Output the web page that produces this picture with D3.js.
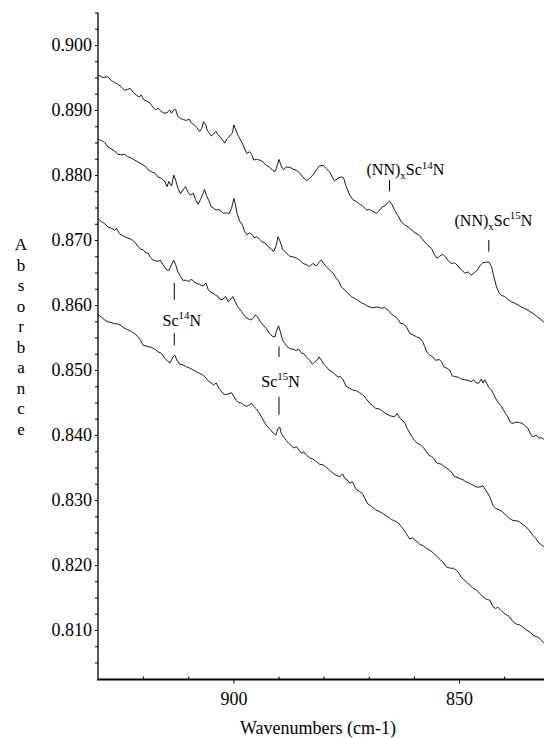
<!DOCTYPE html>
<html>
<head>
<meta charset="utf-8">
<script src="https://cdn.jsdelivr.net/npm/d3@7"></script>
<style>
  body { margin: 0; background: #fff; }
  svg { display: block; }
  text { font-family: "Liberation Serif", "Times New Roman", serif; fill: #000; }
</style>
</head>
<body>
<svg id="chart" width="544" height="738"></svg>
<script>
// IR absorbance spectra, [wavenumber (cm-1), absorbance] pairs, one array per scan (top to bottom)
const scanA = [
  [930.0,0.8954],[928.9,0.8950],[927.8,0.8951],[927.0,0.8945],[926.3,0.8942],[925.6,0.8940],[924.8,0.8935],
  [924.1,0.8930],[923.4,0.8932],[922.8,0.8933],[922.2,0.8927],[921.5,0.8923],[920.9,0.8920],[920.4,0.8923],
  [919.9,0.8916],[919.3,0.8914],[918.5,0.8911],[917.8,0.8904],[917.2,0.8900],[916.7,0.8903],[916.2,0.8899],
  [915.4,0.8895],[914.7,0.8896],[914.1,0.8900],[913.7,0.8895],[913.2,0.8900],[912.8,0.8901],[912.3,0.8890],
  [911.7,0.8887],[911.0,0.8885],[910.4,0.8884],[909.8,0.8886],[909.3,0.8880],[908.6,0.8877],[908.1,0.8873],
  [907.5,0.8867],[907.0,0.8872],[906.6,0.8882],[906.1,0.8877],[905.8,0.8869],[905.4,0.8865],[904.9,0.8860],
  [904.4,0.8863],[903.9,0.8867],[903.4,0.8862],[902.9,0.8858],[902.3,0.8853],[901.9,0.8849],[901.4,0.8856],
  [900.8,0.8860],[900.2,0.8865],[899.9,0.8877],[899.6,0.8872],[899.1,0.8863],[898.6,0.8856],[898.0,0.8849],
  [897.5,0.8840],[897.0,0.8833],[896.4,0.8836],[895.9,0.8831],[895.5,0.8823],[894.9,0.8824],[894.2,0.8823],
  [893.4,0.8820],[892.7,0.8815],[892.0,0.8812],[891.4,0.8808],[890.8,0.8805],[890.3,0.8814],[889.9,0.8824],
  [889.4,0.8814],[888.9,0.8808],[888.3,0.8812],[887.5,0.8812],[886.8,0.8809],[886.0,0.8807],[885.3,0.8803],
  [884.6,0.8797],[883.8,0.8791],[883.1,0.8795],[882.4,0.8800],[881.6,0.8808],[880.9,0.8814],[880.1,0.8815],
  [879.4,0.8810],[878.7,0.8805],[878.1,0.8797],[877.6,0.8791],[876.8,0.8795],[876.1,0.8797],[875.6,0.8796],
  [875.0,0.8782],[874.2,0.8769],[873.5,0.8762],[872.7,0.8759],[872.0,0.8755],[871.3,0.8752],[870.5,0.8746],
  [869.8,0.8747],[869.1,0.8744],[868.3,0.8741],[867.6,0.8746],[867.0,0.8751],[866.5,0.8752],[866.0,0.8756],
  [865.4,0.8760],[864.8,0.8754],[864.3,0.8746],[863.5,0.8737],[862.8,0.8728],[862.0,0.8723],[861.3,0.8720],
  [860.6,0.8716],[859.8,0.8711],[859.1,0.8709],[858.3,0.8703],[857.6,0.8697],[856.9,0.8692],[856.1,0.8687],
  [855.4,0.8677],[854.9,0.8672],[854.3,0.8675],[853.6,0.8678],[853.0,0.8674],[852.4,0.8668],[851.7,0.8664],
  [851.0,0.8665],[850.2,0.8660],[849.5,0.8654],[848.7,0.8649],[848.0,0.8651],[847.3,0.8646],[846.5,0.8650],
  [845.8,0.8655],[845.3,0.8661],[844.7,0.8665],[843.9,0.8666],[843.4,0.8666],[842.8,0.8659],[842.3,0.8644],
  [841.7,0.8628],[841.1,0.8618],[840.6,0.8615],[839.9,0.8613],[839.2,0.8609],[838.4,0.8605],[837.7,0.8603],
  [836.9,0.8600],[836.2,0.8597],[835.5,0.8595],[834.3,0.8590],[833.2,0.8585],[832.3,0.8580],[831.2,0.8574]
];

const scanB = [
  [930.0,0.8855],[929.2,0.8853],[928.5,0.8850],[927.8,0.8843],[927.0,0.8840],[926.3,0.8837],[925.6,0.8832],
  [924.8,0.8831],[924.1,0.8832],[923.4,0.8828],[922.6,0.8826],[921.9,0.8823],[921.1,0.8820],[920.4,0.8817],
  [919.6,0.8814],[918.9,0.8808],[918.2,0.8805],[917.4,0.8803],[916.7,0.8797],[916.0,0.8795],[915.2,0.8790],
  [914.7,0.8782],[914.3,0.8790],[913.7,0.8783],[913.2,0.8800],[912.8,0.8792],[912.3,0.8780],[911.7,0.8771],
  [911.2,0.8777],[910.6,0.8782],[910.1,0.8774],[909.5,0.8769],[908.9,0.8772],[908.35,0.8762],[907.8,0.8755],
  [907.3,0.8762],[906.7,0.8772],[906.4,0.8778],[906.0,0.8769],[905.4,0.8760],[904.9,0.8751],[904.4,0.8749],
  [903.8,0.8746],[903.2,0.8747],[902.7,0.8744],[902.2,0.8741],[901.6,0.8742],[901.0,0.8740],[900.4,0.8749],
  [899.9,0.8764],[899.6,0.8756],[899.2,0.8741],[898.6,0.8729],[898.0,0.8723],[897.5,0.8713],[897.0,0.8708],
  [896.4,0.8711],[895.8,0.8708],[895.3,0.8703],[894.8,0.8705],[894.2,0.8701],[893.6,0.8697],[893.1,0.8696],
  [892.3,0.8690],[891.6,0.8686],[891.1,0.8682],[890.6,0.8690],[890.1,0.8705],[889.6,0.8697],[889.1,0.8686],
  [888.3,0.8680],[887.5,0.8675],[886.8,0.8674],[886.0,0.8672],[885.3,0.8669],[884.6,0.8664],[883.8,0.8662],
  [883.1,0.8659],[882.4,0.8664],[881.6,0.8660],[880.9,0.8667],[880.5,0.8669],[880.0,0.8664],[879.4,0.8659],
  [878.7,0.8654],[877.9,0.8649],[877.2,0.8641],[876.6,0.8636],[876.1,0.8628],[875.3,0.8623],[874.6,0.8618],
  [873.9,0.8613],[873.1,0.8610],[872.4,0.8607],[871.6,0.8603],[870.9,0.8601],[870.2,0.8598],[869.4,0.8596],
  [868.7,0.8596],[868.0,0.8597],[867.2,0.8595],[866.5,0.8596],[865.7,0.8592],[865.0,0.8586],[864.3,0.8583],
  [863.5,0.8578],[863.0,0.8572],[862.4,0.8571],[861.7,0.8567],[860.9,0.8556],[860.2,0.8554],[859.4,0.8551],
  [858.7,0.8549],[858.1,0.8544],[857.6,0.8536],[857.1,0.8527],[856.5,0.8523],[855.8,0.8520],[855.2,0.8515],
  [854.4,0.8516],[853.9,0.8513],[853.4,0.8505],[852.8,0.8503],[852.1,0.8500],[851.5,0.8491],[851.0,0.8490],
  [850.2,0.8489],[849.5,0.8486],[848.7,0.8485],[848.0,0.8484],[847.3,0.8482],[846.75,0.8485],[846.2,0.8480],
  [845.6,0.8480],[845.05,0.8486],[844.7,0.8480],[844.3,0.8485],[843.9,0.8480],[843.4,0.8473],[842.8,0.8469],
  [842.3,0.8462],[841.7,0.8454],[841.1,0.8448],[840.6,0.8444],[840.1,0.8438],[839.7,0.8433],[839.2,0.8428],
  [838.6,0.8419],[838.05,0.8418],[837.3,0.8420],[836.6,0.8419],[836.0,0.8418],[835.5,0.8415],[834.7,0.8410],
  [834.2,0.8402],[833.6,0.8397],[832.9,0.8400],[832.3,0.8395],[831.8,0.8396],[831.2,0.8393]
];

const scanC = [
  [930.0,0.8733],[929.2,0.8728],[928.5,0.8725],[927.8,0.8720],[927.0,0.8718],[926.3,0.8715],[925.9,0.8718],
  [925.3,0.8710],[924.8,0.8708],[924.1,0.8705],[923.4,0.8703],[922.6,0.8701],[921.9,0.8697],[921.1,0.8690],
  [920.6,0.8686],[920.0,0.8685],[919.4,0.8680],[918.9,0.8680],[918.4,0.8673],[917.8,0.8669],[917.2,0.8668],
  [916.7,0.8667],[916.2,0.8669],[915.6,0.8662],[914.8,0.8654],[914.3,0.8653],[913.7,0.8662],[913.2,0.8669],
  [912.8,0.8662],[912.3,0.8651],[911.7,0.8644],[911.2,0.8638],[910.4,0.8638],[909.8,0.8636],[909.3,0.8640],
  [908.8,0.8636],[908.1,0.8633],[907.5,0.8632],[906.7,0.8629],[906.1,0.8634],[905.6,0.8624],[905.1,0.8620],
  [904.5,0.8618],[903.9,0.8615],[903.4,0.8613],[902.9,0.8608],[902.3,0.8609],[901.7,0.8613],[901.2,0.8605],
  [900.7,0.8608],[900.1,0.8613],[899.6,0.8605],[899.0,0.8597],[898.2,0.8590],[897.7,0.8585],[897.1,0.8580],
  [896.5,0.8578],[896.0,0.8577],[895.5,0.8581],[895.1,0.8585],[894.5,0.8580],[894.0,0.8574],[893.4,0.8569],
  [892.7,0.8564],[892.0,0.8556],[891.4,0.8552],[890.8,0.8551],[890.5,0.8559],[890.0,0.8568],[889.6,0.8559],
  [889.1,0.8546],[888.6,0.8541],[888.1,0.8536],[887.5,0.8533],[886.8,0.8532],[886.2,0.8530],[885.5,0.8532],
  [884.9,0.8526],[884.4,0.8525],[883.8,0.8520],[883.1,0.8515],[882.5,0.8509],[882.0,0.8512],[881.5,0.8515],
  [881.0,0.8520],[880.5,0.8515],[880.0,0.8509],[879.4,0.8505],[878.8,0.8500],[878.1,0.8497],[877.3,0.8492],
  [876.8,0.8489],[876.3,0.8490],[875.7,0.8485],[875.0,0.8475],[874.2,0.8472],[873.5,0.8469],[872.7,0.8468],
  [872.0,0.8465],[871.4,0.8462],[870.9,0.8459],[870.5,0.8455],[869.8,0.8449],[869.1,0.8445],[868.5,0.8441],
  [867.6,0.8440],[866.8,0.8436],[866.3,0.8433],[865.7,0.8431],[865.0,0.8429],[864.3,0.8428],[863.7,0.8433],
  [863.15,0.8426],[862.55,0.8423],[862.0,0.8418],[861.5,0.8410],[860.9,0.8403],[860.3,0.8396],[859.8,0.8391],
  [859.3,0.8388],[858.6,0.8385],[857.8,0.8380],[857.2,0.8374],[856.7,0.8369],[856.1,0.8367],[855.6,0.8364],
  [855.0,0.8357],[854.4,0.8356],[853.9,0.8355],[853.2,0.8351],[852.7,0.8349],[852.1,0.8346],[851.5,0.8341],
  [851.0,0.8336],[850.45,0.8335],[849.85,0.8333],[849.1,0.8331],[848.5,0.8328],[848.0,0.8327],[847.5,0.8325],
  [846.9,0.8323],[846.15,0.8320],[845.4,0.8320],[844.7,0.8322],[844.1,0.8315],[843.6,0.8310],[843.05,0.8303],
  [842.5,0.8292],[841.9,0.8287],[841.1,0.8285],[840.4,0.8282],[839.7,0.8277],[838.9,0.8272],[838.2,0.8269],
  [837.4,0.8268],[836.7,0.8267],[836.0,0.8263],[835.2,0.8259],[834.5,0.8254],[833.7,0.8246],[833.0,0.8241],
  [832.3,0.8234],[831.75,0.8231],[831.2,0.8228]
];

const scanD = [
  [930.0,0.8585],[929.2,0.8581],[928.5,0.8577],[927.8,0.8574],[927.0,0.8573],[926.3,0.8571],[925.6,0.8571],
  [924.8,0.8568],[924.1,0.8564],[923.4,0.8562],[922.6,0.8559],[921.9,0.8556],[921.1,0.8551],[920.6,0.8546],
  [920.0,0.8538],[919.4,0.8537],[918.9,0.8536],[918.2,0.8535],[917.4,0.8532],[916.7,0.8528],[916.0,0.8526],
  [915.2,0.8518],[914.5,0.8513],[914.0,0.8511],[913.4,0.8520],[913.0,0.8523],[912.5,0.8515],[911.9,0.8509],
  [911.2,0.8508],[910.4,0.8505],[909.7,0.8503],[908.9,0.8500],[908.2,0.8497],[907.5,0.8495],[906.7,0.8492],
  [906.0,0.8487],[905.4,0.8482],[904.9,0.8480],[904.4,0.8477],[903.8,0.8480],[903.2,0.8472],[902.7,0.8467],
  [901.9,0.8462],[901.2,0.8463],[900.4,0.8465],[899.9,0.8459],[899.3,0.8453],[898.8,0.8450],[898.2,0.8449],
  [897.7,0.8446],[897.1,0.8444],[896.5,0.8446],[896.0,0.8449],[895.5,0.8444],[894.9,0.8440],[894.2,0.8433],
  [893.4,0.8423],[892.7,0.8415],[892.0,0.8410],[891.2,0.8403],[890.6,0.8400],[890.1,0.8410],[889.7,0.8412],
  [889.4,0.8403],[888.9,0.8397],[888.3,0.8392],[887.7,0.8387],[887.1,0.8383],[886.6,0.8380],[886.0,0.8382],
  [885.5,0.8377],[884.9,0.8372],[884.4,0.8374],[883.8,0.8369],[883.1,0.8365],[882.4,0.8363],[881.6,0.8359],
  [880.9,0.8355],[880.1,0.8354],[879.4,0.8350],[878.7,0.8346],[877.9,0.8341],[877.2,0.8338],[876.4,0.8336],
  [875.8,0.8340],[875.3,0.8333],[874.8,0.8331],[874.2,0.8326],[873.6,0.8328],[873.1,0.8320],[872.6,0.8315],
  [872.0,0.8313],[871.4,0.8310],[870.9,0.8303],[870.2,0.8294],[869.4,0.8290],[868.5,0.8285],[867.6,0.8282],
  [866.8,0.8279],[866.0,0.8275],[865.0,0.8270],[864.3,0.8268],[863.5,0.8265],[862.8,0.8259],[862.0,0.8252],
  [861.5,0.8246],[860.9,0.8240],[860.3,0.8242],[859.8,0.8238],[859.3,0.8236],[858.7,0.8232],[857.8,0.8229],
  [857.2,0.8225],[856.3,0.8222],[855.6,0.8218],[854.9,0.8213],[854.1,0.8208],[853.4,0.8203],[852.8,0.8197],
  [851.9,0.8195],[851.2,0.8195],[850.6,0.8192],[850.0,0.8187],[849.5,0.8181],[849.0,0.8178],[848.4,0.8174],
  [847.6,0.8169],[846.9,0.8164],[846.15,0.8162],[845.4,0.8156],[844.7,0.8151],[843.9,0.8147],[843.2,0.8146],
  [842.5,0.8136],[841.9,0.8133],[841.4,0.8135],[840.8,0.8131],[840.1,0.8126],[839.4,0.8123],[838.8,0.8120],
  [838.05,0.8113],[837.3,0.8109],[836.6,0.8108],[835.8,0.8104],[835.1,0.8100],[834.3,0.8097],[833.6,0.8092],
  [832.9,0.8090],[832.1,0.8087],[831.2,0.8080]
];

// axis tick labels
const yTickLabels = ["0.810","0.820","0.830","0.840","0.850","0.860","0.870","0.880","0.890","0.900"];
const xTickLabels = ["900","850"];

// band assignments: label pieces, text anchor (wavenumber, absorbance) and marker segments
const bandLabels = [
  { parts: [["(NN)",""],["x","sub"],["Sc",""],["14","sup"],["N",""]], wn: 870.5, abs: 0.8800,
    marks: [[865.4, 0.8792, 0.8775]] },
  { parts: [["(NN)",""],["x","sub"],["Sc",""],["15","sup"],["N",""]], wn: 851.0, abs: 0.8722,
    marks: [[843.4, 0.8700, 0.8682]] },
  { parts: [["Sc",""],["14","sup"],["N",""]], wn: 915.7, abs: 0.8568,
    marks: [[913.1, 0.8634, 0.8608], [913.1, 0.8557, 0.8538]] },
  { parts: [["Sc",""],["15","sup"],["N",""]], wn: 893.8, abs: 0.8474,
    marks: [[889.9, 0.8536, 0.8520], [889.9, 0.8459, 0.8431]] }
];

const svg = d3.select("#chart");
const W = 544, H = 738;
const plotLeft = 98, plotTop = 12.5, plotBottom = 678.75;

const x = d3.scaleLinear().domain([930, 830]).range([plotLeft, 549.3]);
const y = d3.scaleLinear().domain([0.8025, 0.905]).range([plotBottom, plotTop]);

svg.append("rect").attr("width", W).attr("height", H).attr("fill", "#fff");

svg.append("defs").append("clipPath").attr("id", "plot-clip")
  .append("rect").attr("x", plotLeft).attr("y", 0).attr("width", W - plotLeft).attr("height", plotBottom);

// spectra
const line = d3.line().x(d => x(d[0])).y(d => y(d[1]));
svg.append("g").attr("clip-path", "url(#plot-clip)")
  .selectAll("path").data([scanA, scanB, scanC, scanD]).join("path")
  .attr("d", line)
  .attr("fill", "none")
  .attr("stroke", "#1a1a1a")
  .attr("stroke-width", 1)
  .attr("stroke-linejoin", "round");

// y axis: labelled ticks every 0.010, minor ticks every 0.0025
const yMajor = yTickLabels.map(Number);
const yMinor = d3.range(0, 41).map(i => 0.805 + i * 0.0025).filter(v => v <= 0.9051);
const yMinG = svg.append("g").attr("transform", `translate(${plotLeft},0)`)
  .call(d3.axisLeft(y).tickValues(yMinor).tickSize(3).tickFormat(""));
yMinG.select(".domain").remove();
const yLab = svg.append("g").attr("transform", `translate(${plotLeft},0)`)
  .call(d3.axisLeft(y).tickValues(yMajor).tickSize(3).tickPadding(3)
    .tickFormat((d, i) => yTickLabels[i]));
yLab.select(".domain").remove();
yLab.selectAll("text").attr("font-size", 18).attr("font-family", '"Liberation Serif", serif');

svg.append("line")
  .attr("x1", plotLeft).attr("x2", plotLeft).attr("y1", plotTop).attr("y2", plotBottom + 1)
  .attr("stroke", "#000").attr("stroke-width", 1.3);

// x axis: labelled ticks outward, minor ticks every 10 cm-1 inward
const xMajor = xTickLabels.map(Number);
const xMinor = [920, 910, 890, 880, 870, 860, 840];
const xAxisY = plotBottom + 0.75;
const xMinG = svg.append("g").attr("transform", `translate(0,${xAxisY})`)
  .call(d3.axisBottom(x).tickValues(xMinor).tickSize(-3).tickFormat(""));
xMinG.select(".domain").remove();
const xMajG = svg.append("g").attr("transform", `translate(0,${xAxisY})`)
  .call(d3.axisBottom(x).tickValues(xMajor).tickSize(4).tickPadding(9)
    .tickFormat((d, i) => xTickLabels[i]));
xMajG.select(".domain").remove();
xMajG.selectAll("text").attr("font-size", 18).attr("font-family", '"Liberation Serif", serif');
svg.selectAll(".tick line").attr("stroke", "#000").attr("stroke-width", 1);

svg.append("line")
  .attr("x1", plotLeft - 1).attr("x2", W).attr("y1", xAxisY).attr("y2", xAxisY)
  .attr("stroke", "#000").attr("stroke-width", 2.2);

// axis titles
svg.append("text")
  .attr("x", 318).attr("y", 734)
  .attr("text-anchor", "middle").attr("font-size", 18)
  .text("Wavenumbers (cm-1)");

const yTitle = "Absorbance".split("");
svg.append("g").selectAll("text").data(yTitle).join("text")
  .attr("x", 21).attr("y", (d, i) => 250 + i * 20.5)
  .attr("text-anchor", "middle").attr("font-size", 17)
  .text(d => d);

// band assignments
const labelG = svg.append("g");
bandLabels.forEach(b => {
  const t = labelG.append("text")
    .attr("x", x(b.wn)).attr("y", y(b.abs))
    .attr("font-size", 16);
  let shift = 0;
  b.parts.forEach(([s, kind]) => {
    const target = kind === "sup" ? -6.5 : kind === "sub" ? 4 : 0;
    t.append("tspan")
      .attr("dy", target - shift)
      .attr("font-size", kind ? 11 : 16)
      .text(s);
    shift = target;
  });
  b.marks.forEach(([wn, a0, a1]) => {
    labelG.append("line")
      .attr("x1", x(wn)).attr("x2", x(wn))
      .attr("y1", y(a0)).attr("y2", y(a1))
      .attr("stroke", "#000").attr("stroke-width", 1);
  });
});
</script>
</body>
</html>
